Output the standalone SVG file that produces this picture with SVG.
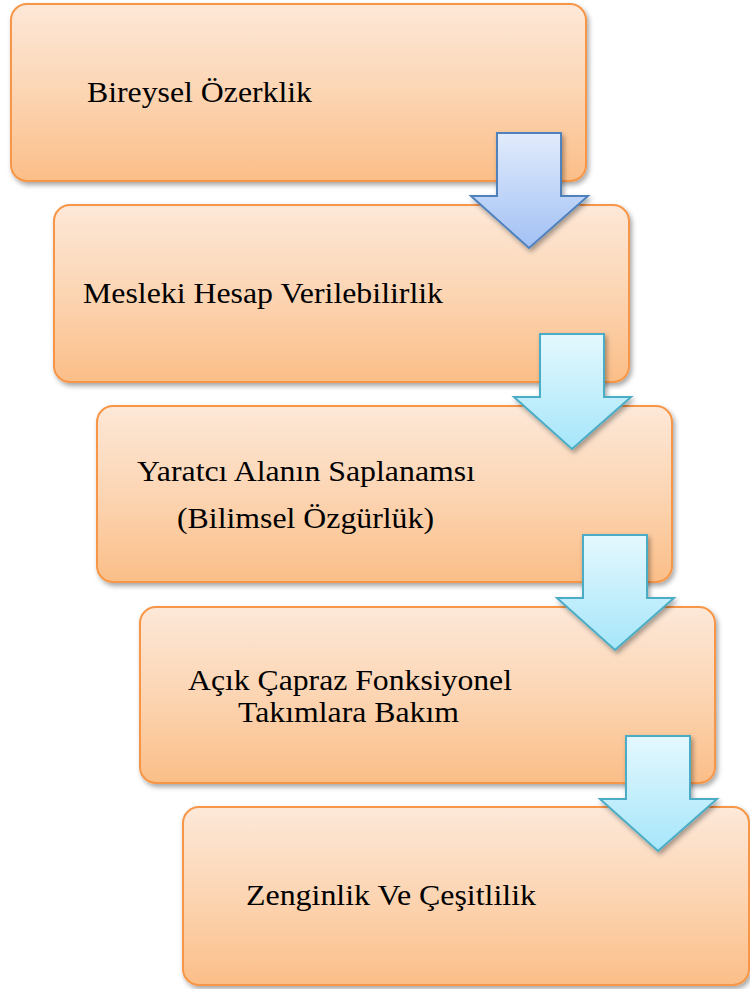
<svg xmlns="http://www.w3.org/2000/svg" width="750" height="989" viewBox="0 0 750 989">
<defs>
<linearGradient id="boxg" x1="0" y1="0" x2="0" y2="1">
<stop offset="0" stop-color="#fde8d8"/>
<stop offset="0.5" stop-color="#fcd5b3"/>
<stop offset="1" stop-color="#fbbe88"/>
</linearGradient>
<linearGradient id="blueg" x1="0" y1="0" x2="0" y2="1">
<stop offset="0" stop-color="#e1ebfc"/>
<stop offset="1" stop-color="#a2c1f4"/>
</linearGradient>
<linearGradient id="cyang" x1="0" y1="0" x2="0" y2="1">
<stop offset="0" stop-color="#e4f8fe"/>
<stop offset="1" stop-color="#a6e6fa"/>
</linearGradient>
<filter id="sh" x="-10%" y="-10%" width="120%" height="130%">
<feDropShadow dx="2" dy="3" stdDeviation="2.5" flood-color="#000" flood-opacity="0.35"/>
</filter>
</defs>
<style>
.box{fill:url(#boxg);stroke:#f79646;stroke-width:2;filter:url(#sh)}
.t{font-family:"Liberation Serif","Times New Roman",serif;font-size:30px;fill:#000}
.a1{fill:url(#blueg);stroke:#4f81bd;stroke-width:2;stroke-linejoin:miter;filter:url(#sh)}
.a2{fill:url(#cyang);stroke:#4bacc6;stroke-width:2;stroke-linejoin:miter;filter:url(#sh)}
</style>
<g id="node1">
<rect class="box" x="11" y="4" width="575" height="177" rx="16"/>
<text class="t" x="87" y="102" textLength="225" lengthAdjust="spacingAndGlyphs">Bireysel Özerklik</text>
</g>
<g id="node2">
<rect class="box" x="54" y="205" width="575" height="177" rx="16"/>
<text class="t" x="83" y="303" textLength="360" lengthAdjust="spacingAndGlyphs">Mesleki Hesap Verilebilirlik</text>
</g>
<g id="node3">
<rect class="box" x="97" y="406" width="575" height="176" rx="16"/>
<text class="t" x="137" y="481" textLength="338" lengthAdjust="spacingAndGlyphs">Yaratcı Alanın Saplanamsı</text>
<text class="t" x="177" y="528" textLength="257" lengthAdjust="spacingAndGlyphs">(Bilimsel Özgürlük)</text>
</g>
<g id="node4">
<rect class="box" x="140" y="607" width="575" height="176" rx="16"/>
<text class="t" x="188" y="690" textLength="324" lengthAdjust="spacingAndGlyphs">Açık Çapraz Fonksiyonel</text>
<text class="t" x="238" y="722" textLength="221" lengthAdjust="spacingAndGlyphs">Takımlara Bakım</text>
</g>
<g id="node5">
<rect class="box" x="183" y="807" width="566" height="178" rx="16"/>
<text class="t" x="246" y="905" textLength="290" lengthAdjust="spacingAndGlyphs">Zenginlik Ve Çeşitlilik</text>
</g>
<g id="connectors">
<path class="a1" d="M497,133 H561 V196 H588 L529,248 L471,196 H497 Z"/>
<path class="a2" d="M540,334 H604 V397 H631 L572,449 L514,397 H540 Z"/>
<path class="a2" d="M583,535 H647 V598 H674 L615,650 L557,598 H583 Z"/>
<path class="a2" d="M626,736 H690 V799 H717 L658,851 L600,799 H626 Z"/>
</g>
</svg>
